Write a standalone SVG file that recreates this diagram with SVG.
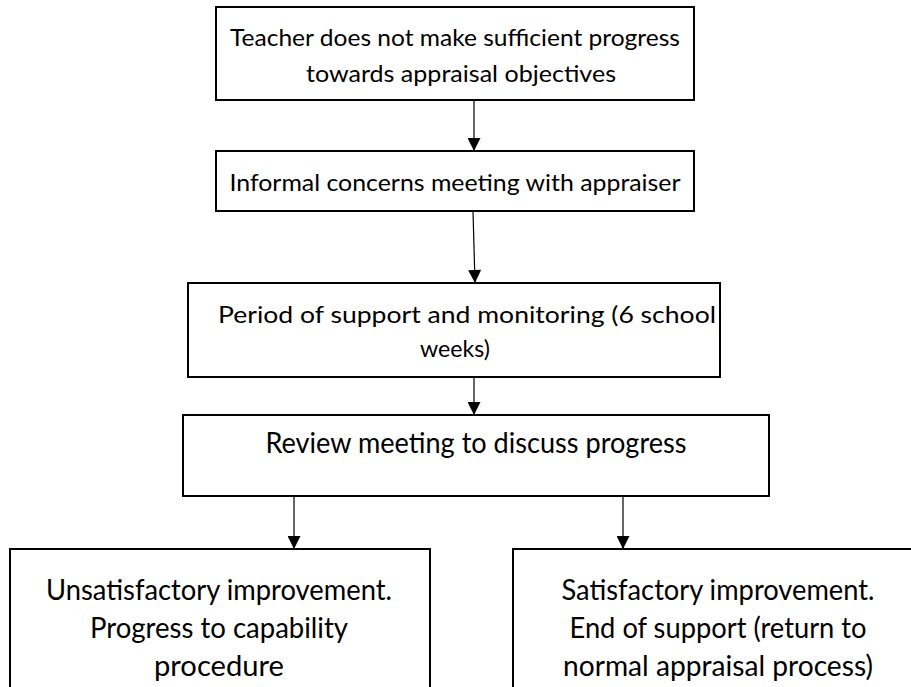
<svg xmlns="http://www.w3.org/2000/svg" width="911" height="687" viewBox="0 0 911 687">
<defs>
<marker id="ah" viewBox="0 0 10 10" refX="10" refY="5" markerWidth="15" markerHeight="13" markerUnits="userSpaceOnUse" orient="auto">
<path d="M0,0 L10,5 L0,10 z" fill="#000"/>
</marker>
<style>
.box{fill:#fff;stroke:#000;stroke-width:2}
.t{font-family:Lato,"Open Sans","Liberation Sans",sans-serif;font-size:24px;fill:#000;text-anchor:middle}
.c{font-family:Lato,"Open Sans","Liberation Sans",sans-serif;font-size:28px;fill:#000;text-anchor:middle}
.ln{stroke:#000;stroke-width:1.2;fill:none}
</style>
</defs>
<rect width="911" height="687" fill="#fff"/>
<g id="connectors">
<line class="ln" x1="474" y1="100" x2="474" y2="151" marker-end="url(#ah)"/>
<line class="ln" x1="473" y1="211" x2="475" y2="283" marker-end="url(#ah)"/>
<line class="ln" x1="474" y1="377" x2="474" y2="415" marker-end="url(#ah)"/>
<line class="ln" x1="294" y1="497" x2="294" y2="549" marker-end="url(#ah)"/>
<line class="ln" x1="623" y1="496" x2="623" y2="549" marker-end="url(#ah)"/>
</g>
<g id="n1">
<rect class="box" x="216" y="7" width="478" height="93"/>
<text class="t" x="455" y="46" textLength="450" lengthAdjust="spacingAndGlyphs">Teacher does not make sufficient progress</text>
<text class="t" x="461" y="82" textLength="310" lengthAdjust="spacingAndGlyphs">towards appraisal objectives</text>
</g>
<g id="n2">
<rect class="box" x="216" y="151" width="478" height="60"/>
<text class="t" x="455" y="191" textLength="451" lengthAdjust="spacingAndGlyphs">Informal concerns meeting with appraiser</text>
</g>
<g id="n3">
<rect class="box" x="188" y="283" width="532" height="94"/>
<text class="t" x="467" y="323" textLength="498" lengthAdjust="spacingAndGlyphs">Period of support and monitoring (6 school</text>
<text class="t" x="455" y="357" textLength="70" lengthAdjust="spacingAndGlyphs">weeks)</text>
</g>
<g id="n4">
<rect class="box" x="183" y="415" width="586" height="81"/>
<text class="c" x="476" y="453" font-size="26" textLength="421" lengthAdjust="spacingAndGlyphs">Review meeting to discuss progress</text>
</g>
<g id="n5">
<rect class="box" x="10" y="549" width="420" height="150"/>
<text class="c" x="219" y="600" textLength="346" lengthAdjust="spacingAndGlyphs">Unsatisfactory improvement.</text>
<text class="c" x="219" y="638" textLength="258" lengthAdjust="spacingAndGlyphs">Progress to capability</text>
<text class="c" x="219" y="676" textLength="130" lengthAdjust="spacingAndGlyphs">procedure</text>
</g>
<g id="n6">
<rect class="box" x="513" y="549" width="410" height="150"/>
<text class="c" x="718" y="600" textLength="313" lengthAdjust="spacingAndGlyphs">Satisfactory improvement.</text>
<text class="c" x="718" y="638" textLength="297" lengthAdjust="spacingAndGlyphs">End of support (return to</text>
<text class="c" x="718" y="676" textLength="310" lengthAdjust="spacingAndGlyphs">normal appraisal process)</text>
</g>
</svg>
